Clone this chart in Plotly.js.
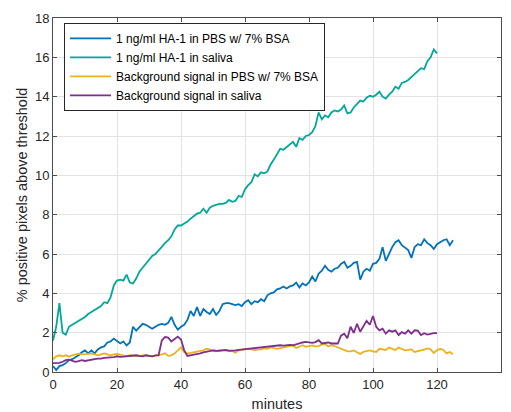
<!DOCTYPE html>
<html>
<head>
<meta charset="utf-8">
<script src="https://cdn.plot.ly/plotly-3.0.1.min.js"></script>
<style>
html,body{margin:0;padding:0;background:#fff;}
#chart{width:511px;height:412px;}
</style>
</head>
<body>
<div id="chart"></div>
<script>
// ---- data ----
const seriesNames = [
  "1 ng/ml HA-1 in PBS w/ 7% BSA",
  "1 ng/ml HA-1 in saliva",
  "Background signal in PBS w/ 7% BSA",
  "Background signal in saliva"
];

const pbsHA = [0.3,0.1,0.3,0.35,0.45,0.6,0.65,0.75,0.85,1.0,
  1.1,0.95,1.1,0.95,1.15,1.25,1.3,1.5,1.55,1.7,
  1.55,1.45,1.55,1.35,1.5,2.3,2.1,2.3,2.45,2.4,
  2.3,2.2,2.3,2.4,2.45,2.4,2.5,2.8,2.4,2.15,
  2.3,2.4,2.65,3.1,2.85,3.3,2.85,3.2,3.05,2.95,
  3.2,2.9,3.1,3.45,3.5,3.5,3.45,3.4,3.45,3.35,
  3.55,3.65,3.45,3.6,3.55,3.7,3.6,3.9,4.0,4.05,
  4.2,4.25,4.35,4.25,4.35,4.4,4.55,4.3,4.5,4.4,
  4.55,4.85,4.6,5.0,5.15,5.4,5.2,5.1,5.25,5.3,
  5.5,5.6,5.3,5.4,5.55,5.6,4.7,5.1,5.25,5.15,
  5.5,5.55,5.75,6.35,5.65,6.0,6.35,6.6,6.7,6.45,
  6.3,6.2,5.8,6.35,6.5,6.45,6.75,6.55,6.45,6.25,
  6.5,6.6,6.7,6.75,6.45,6.7];

const salivaHA = [1.6,2.3,3.5,2.0,1.9,2.3,2.4,2.5,2.6,2.7,
  2.8,2.95,3.05,3.15,3.25,3.35,3.55,3.5,3.8,4.4,
  4.65,4.7,4.65,4.95,4.55,4.5,4.75,5.1,5.3,5.5,
  5.65,5.9,6.0,6.2,6.4,6.55,6.7,6.9,7.25,7.45,
  7.45,7.55,7.65,7.8,7.95,8.05,8.1,8.3,8.1,8.35,
  8.45,8.5,8.55,8.55,8.6,8.75,8.65,8.7,8.95,8.9,
  9.3,9.5,9.65,10.05,9.95,10.15,10.1,10.2,10.55,10.8,
  11.1,11.35,11.3,11.45,11.55,11.7,11.45,11.9,11.8,12.0,
  12.05,12.2,12.5,13.2,12.85,13.05,12.95,13.2,13.3,13.25,
  13.35,13.55,13.15,13.2,13.45,13.65,13.8,13.75,13.95,14.05,
  14.0,14.1,14.25,14.0,13.9,14.1,14.25,14.5,14.4,14.7,
  14.75,14.85,15.0,15.15,15.35,15.45,15.4,15.8,16.0,16.4,
  16.2];

const pbsBg = [0.65,0.8,0.85,0.8,0.85,0.78,0.85,0.9,0.93,0.9,
  0.9,0.92,0.95,0.9,0.85,0.9,0.95,0.9,0.85,0.9,
  0.92,0.88,0.85,0.8,0.85,0.85,0.82,0.8,0.85,0.85,
  0.82,0.8,0.83,0.85,0.9,0.95,0.82,0.85,0.95,1.1,
  1.25,1.0,0.95,0.97,1.0,1.02,1.05,1.1,1.18,1.15,
  1.08,1.05,1.12,1.1,1.08,1.1,1.07,0.98,1.1,1.12,
  1.15,1.18,1.15,1.12,1.14,1.15,1.2,1.18,1.25,1.22,
  1.18,1.22,1.25,1.27,1.3,1.35,1.22,1.28,1.36,1.28,
  1.3,1.35,1.3,1.32,1.4,1.42,1.3,1.36,1.32,1.25,
  1.2,1.12,1.05,1.05,1.1,1.0,0.92,1.02,1.05,1.1,
  1.05,1.02,1.18,1.15,1.12,1.24,1.18,1.12,1.24,1.15,
  1.1,1.12,1.15,1.02,1.08,1.1,1.14,1.2,1.15,0.97,
  1.1,1.18,1.12,0.95,1.02,0.9];

const salivaBg = [0.45,0.45,0.46,0.52,0.6,0.63,0.56,0.52,0.55,0.6,
  0.56,0.6,0.63,0.66,0.68,0.68,0.72,0.73,0.73,0.76,
  0.8,0.77,0.78,0.8,0.8,0.82,0.85,0.82,0.8,0.85,
  0.82,0.8,0.85,0.85,1.6,1.78,1.75,1.55,1.68,1.8,
  1.65,1.1,0.82,0.85,0.88,0.9,0.95,1.0,1.03,1.06,
  1.1,1.08,1.07,1.1,1.12,1.07,1.1,1.1,1.12,1.14,
  1.15,1.17,1.19,1.2,1.22,1.24,1.27,1.28,1.3,1.32,
  1.35,1.36,1.34,1.36,1.38,1.36,1.42,1.48,1.5,1.53,
  1.5,1.48,1.52,1.62,1.45,1.48,1.5,1.45,1.44,1.45,
  1.85,1.95,1.72,2.3,1.98,2.45,2.05,2.3,2.6,2.4,
  2.85,2.3,2.12,2.2,1.95,2.12,2.05,2.12,1.88,2.03,
  1.95,2.12,1.95,2.12,2.1,1.88,1.97,1.9,1.95,1.98,
  1.98];

const xTicks = [0,20,40,60,80,100,120,140];
const yTicks = [0,2,4,6,8,10,12,14,16,18];

function minutesFor(arr){ return arr.map((_, i) => i); }

// ---- styling ----
const colors = ["#0072BD", "#00A89A", "#EDB120", "#7E2F8E"];
const values = [pbsHA, salivaHA, pbsBg, salivaBg];

const traces = values.map((v, k) => ({
  type: "scatter",
  mode: "lines",
  x: minutesFor(v),
  y: v,
  name: seriesNames[k],
  line: {color: colors[k], width: 1.8},
  hoverinfo: "skip"
}));

const fontFam = "Liberation Sans, Arial, Helvetica, sans-serif";
const axisCommon = {
  showgrid: true,
  gridcolor: "#e3e3e3",
  gridwidth: 1,
  zeroline: false,
  showline: true,
  linecolor: "#4d4d4d",
  linewidth: 1,
  mirror: "ticks",
  ticks: "inside",
  ticklen: 4,
  tickcolor: "#4d4d4d",
  tickfont: {family: fontFam, size: 13, color: "#262626"},
  fixedrange: true
};

const layout = {
  width: 511,
  height: 412,
  margin: {l: 53, r: 10, t: 18, b: 40},
  paper_bgcolor: "#ffffff",
  plot_bgcolor: "#ffffff",
  showlegend: true,
  xaxis: Object.assign({}, axisCommon, {
    range: [0, 140],
    tickvals: xTicks,
    ticktext: xTicks.map(String),
    title: {text: "minutes", font: {family: fontFam, size: 14.5, color: "#262626"}, standoff: 10}
  }),
  yaxis: Object.assign({}, axisCommon, {
    range: [0, 18],
    tickvals: yTicks,
    ticktext: yTicks.map(String),
    title: {text: "% positive pixels above threshold", font: {family: fontFam, size: 14.5, color: "#262626"}, standoff: 3}
  }),
  legend: {
    x: 0.0246, y: 0.986, xanchor: "left", yanchor: "top",
    bgcolor: "#ffffff",
    bordercolor: "#262626",
    borderwidth: 1,
    font: {family: fontFam, size: 12, color: "#000000"},
    itemwidth: 41,
    traceorder: "normal"
  }
};

Plotly.newPlot("chart", traces, layout, {staticPlot: true, displayModeBar: false});
</script>
</body>
</html>
